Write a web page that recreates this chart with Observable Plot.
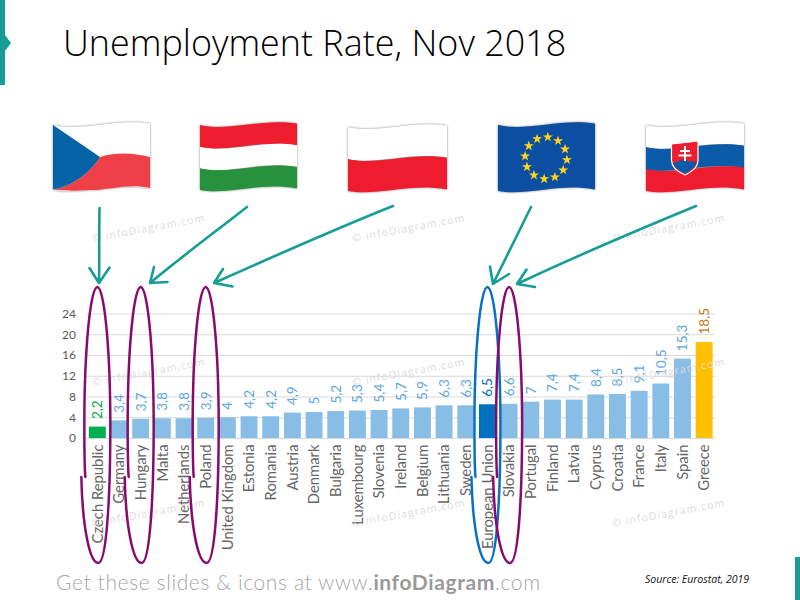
<!DOCTYPE html>
<html>
<head>
<meta charset="utf-8">
<script src="https://cdn.jsdelivr.net/npm/d3@7"></script>
<script src="https://cdn.jsdelivr.net/npm/@observablehq/plot@0.6"></script>
<style>
html,body{margin:0;padding:0;background:#fff;width:800px;height:600px;overflow:hidden}
#wrap{position:relative;width:800px;height:600px}
#wrap svg{position:absolute;left:0;top:0}
.h{position:absolute;white-space:nowrap}
#title{left:63px;top:18px;font:300 35.9px/50px "Open Sans",sans-serif;color:#000}
#foot{left:56px;top:568px;font:300 21px/28px "Lato",sans-serif;color:#a6a6a6;letter-spacing:.62px}
#foot b{font-weight:700;color:#9a9a9a}
#source{left:645px;top:572px;font:italic 10.5px/14px "Open Sans",sans-serif;color:#111}
</style>
</head>
<body>
<div id="wrap">
<div class="h" id="title">Unemployment Rate, Nov 2018</div>
<div class="h" id="foot">Get these slides &amp; icons at www.<b>infoDiagram</b>.com</div>
<div class="h" id="source">Source: Eurostat, 2019</div>
</div>
<script>
const categories = ["Czech Republic","Germany","Hungary","Malta","Netherlands","Poland","United Kingdom","Estonia","Romania","Austria","Denmark","Bulgaria","Luxembourg","Slovenia","Ireland","Belgium","Lithuania","Sweden","European Union","Slovakia","Portugal","Finland","Latvia","Cyprus","Croatia","France","Italy","Spain","Greece"];
const values = [2.2,3.4,3.7,3.8,3.8,3.9,4,4.2,4.2,4.9,5,5.2,5.3,5.4,5.7,5.9,6.3,6.3,6.5,6.6,7,7.4,7.4,8.4,8.5,9.1,10.5,15.3,18.5];
const yTicks = [0,4,8,12,16,20,24];
const barColors = {"Czech Republic":"#00B050","European Union":"#0070C0","Greece":"#FFC000"};
const labelColors = {"Czech Republic":"#00A651","European Union":"#0070C0","Greece":"#C47A12"};
const circled = [["Czech Republic","#870B6E"],["Hungary","#870B6E"],["Poland","#870B6E"],["European Union","#0A70C2"],["Slovakia","#870B6E"]];

const rows = categories.map((c,i)=>({category:c,value:values[i],label:String(values[i]).replace(".",",")}));

const chart = Plot.plot({
  width:800, height:600,
  marginLeft:86.5, marginRight:85, marginTop:313.5, marginBottom:162,
  style:{fontFamily:"Lato, sans-serif",background:"transparent"},
  x:{domain:categories,paddingInner:0.22,paddingOuter:0.11,round:false,label:null},
  y:{domain:[0,24],label:null},
  marks:[
    Plot.ruleY(yTicks,{stroke:"#d9d9d9",strokeWidth:1}),
    Plot.barY(rows,{x:"category",y:"value",fill:d=>barColors[d.category]||"#88BDE6"}),
    Plot.text(rows,{x:"category",y:"value",text:"label",rotate:-90,textAnchor:"start",dy:-8,fontSize:13.5,
      fill:d=>labelColors[d.category]||"#5CA6E0"}),
    Plot.axisY({ticks:yTicks,tickSize:0,tickPadding:11,fontSize:12,color:"#595959",label:null}),
    Plot.axisX({tickRotate:-90,tickSize:0,tickPadding:6,fontSize:14.8,color:"#666",label:null})
  ]
});
document.getElementById("wrap").prepend(chart);

/* decoration: flags, arrows, hand-drawn ellipses, watermarks, slide accents */
const svg = d3.select(chart);
const xS = chart.scale("x");
const cx = c => xS.apply(c)+xS.bandwidth/2;
const TEAL = "#169E96";

// watermarks
const wm = svg.append("g").attr("text-anchor","start").attr("font-family","Open Sans, sans-serif").attr("font-size",10.5).attr("letter-spacing",1.1).attr("fill","#dcdcdc");
[93,353,613].forEach(px=>[242,386,527].forEach(py=>{
  wm.append("text").attr("transform",`translate(${px},${py}) rotate(-10.5)`).text("© infoDiagram.com");
}));

// accents
svg.append("path").attr("d","M0,0H5V35L11,43L5,51V85H0Z").attr("fill",TEAL);
svg.append("rect").attr("x",795).attr("y",557).attr("width",5).attr("height",43).attr("fill",TEAL);

// flags
const top_ = (x,w,y)=>`C${x+.3*w},${y+7} ${x+.62*w},${y-7} ${x+w},${y-1.5}`;
const bot_ = (x,w,y)=>`C${x+.62*w},${y-7} ${x+.3*w},${y+7} ${x},${y+1.5}`;
const band = (x,w,y1,y2)=>`M${x},${y1}${top_(x,w,y1)}L${x+w},${y2-1.5}${bot_(x,w,y2-1.5)}Z`;
const fl = svg.append("g").style("filter","drop-shadow(0 0 1.2px rgba(0,0,0,.5))");
function flag(x,w,y0,y1,stripes){
  const g = fl.append("g");
  const h=(y1-y0);
  let acc=0;
  stripes.forEach(([f,frac])=>{
    g.append("path").attr("d",band(x,w,y0+h*acc,y0+h*(acc+frac)+(acc+frac<1?.5:0))).attr("fill",f);
    acc+=frac;
  });
  return g;
}
// Czech
const cz = flag(53,97,125,190,[["#fff",1]]);
cz.append("path").attr("d","M53,189.5C75,186 92,170 100,157C118,152 132,153 150,157L150,188C128,183 110,190 90,190C75,191 65,191 53,189.5Z").attr("fill","#EF4048");
cz.append("path").attr("d","M53,125L100,157C92,170 75,186 53,189.5Z").attr("fill","#0563A6");
// Hungary
flag(200,97,125,190,[["#EE1C2E",1/3],["#fff",1/3],["#26923E",1/3]]);
// Poland
flag(348,99,127,191,[["#fff",.5],["#EE1C2E",.5]]);
// EU
const eu = flag(498,97,125,191,[["#0B4EA2",1]]);
d3.range(12).forEach(i=>{
  const a = (i*30+5)*Math.PI/180;
  eu.append("path").attr("d",d3.symbol(d3.symbolStar,32)())
    .attr("transform",`translate(${546+21*Math.sin(a)},${158-21*Math.cos(a)})`).attr("fill","#FFD617");
});
// Slovakia
const sk = flag(646,98,125,191,[["#fff",1/3],["#0B5CA8",1/3],["#EE1C2E",1/3]]);
sk.append("path").attr("d","M671.5,144C680,143 690,142 698,141L698,160C698,168 691,172 685,175C678,172 671.5,168 671.5,160Z").attr("fill","#EE1C2E").attr("stroke","#fff").attr("stroke-width",1.2);
sk.append("path").attr("d","M673,163C676,161 678,163 680,161C682,159 686,159 688,161C690,163 694,160 696.5,162C695,168 690,171 685,173.5C679,171 675,168 673,163Z").attr("fill","#0B5CA8");
sk.append("path").attr("d","M685,146V161M680,151H690M678.5,155.5H691.5").attr("stroke","#fff").attr("stroke-width",2).attr("fill","none");

// arrows
const ar = svg.append("g").attr("fill","none").attr("stroke",TEAL).attr("stroke-width",2.6).attr("stroke-linecap","round").attr("stroke-linejoin","round");
[
 "M99.5,208C99,235 99.5,260 99,283M89.5,268L99,283L109.5,267.5",
 "M247,207C215,232 180,258 150,283M154,267L150,283L167.5,282",
 "M393,206C335,229 270,258 214,283M223,269L214,283L232.5,286.5",
 "M531,207C517,235 505,260 493,284M490,266.5L493,284L509,274",
 "M696,206C640,229 570,259 517,284M526.5,269.5L517,284L535,287"
].forEach(d=>ar.append("path").attr("d",d));

// ellipses
const el = svg.append("g").attr("fill","none").attr("stroke-width",2.5).attr("stroke-linecap","round");
circled.forEach(([c,col])=>{
  const m = cx(c);
  el.append("path").attr("stroke",col).attr("d",
    `M${m-16},477C${m-15},525 ${m-8},563 ${m+1},563C${m+9},563 ${m+13},500 ${m+13},425C${m+13},350 ${m+7},287 ${m},287C${m-7},287 ${m-13},350 ${m-13},425C${m-13},450 ${m-13},465 ${m-12},477`);
});
</script>
</body>
</html>
